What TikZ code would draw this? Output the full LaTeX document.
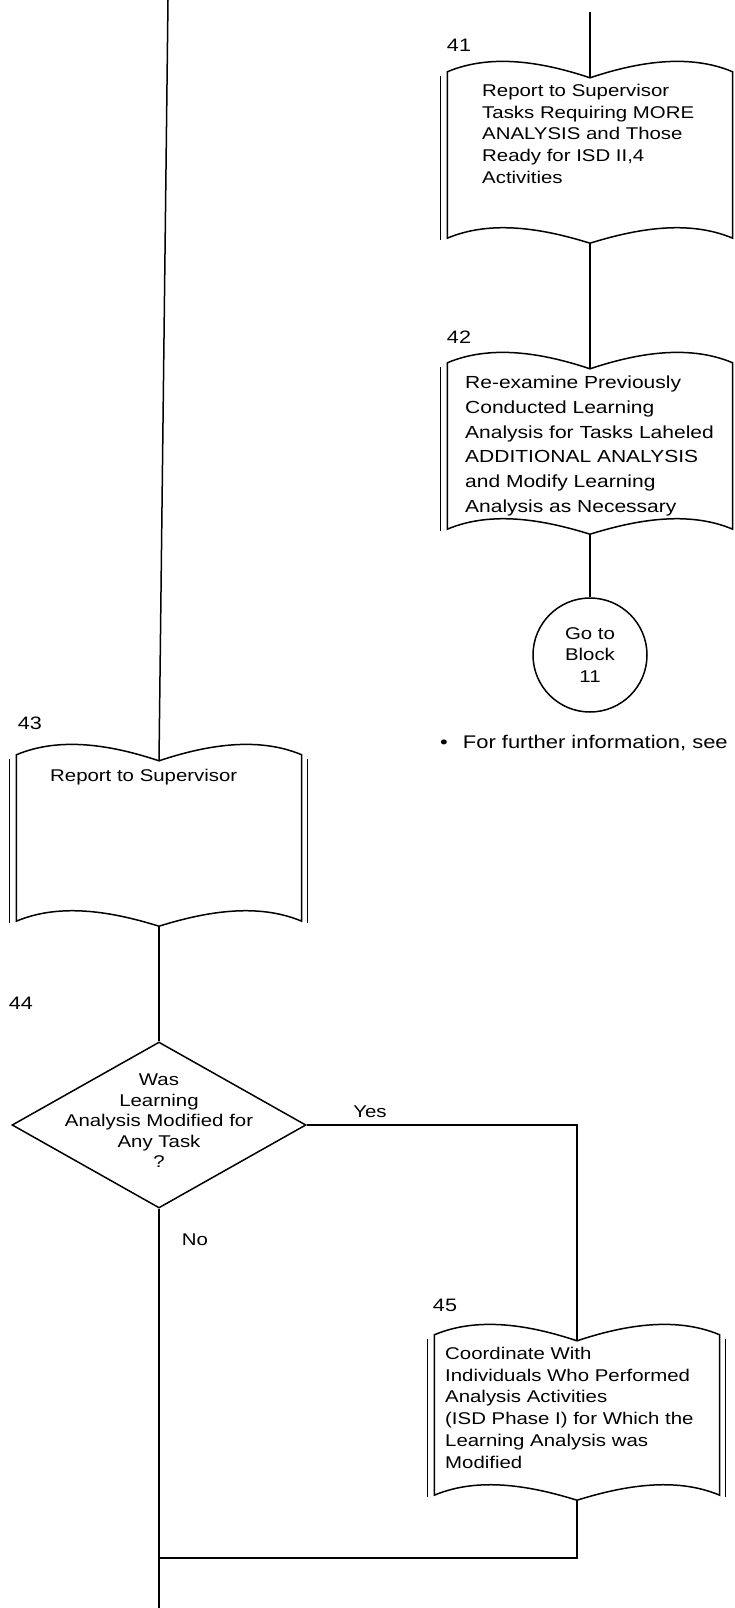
\documentclass[tikz,border=0pt]{standalone}
\usepackage{fontspec}
\setmainfont{Liberation Sans}[FakeStretch=1.2]
\usetikzlibrary{shapes.geometric}
\tikzset{
 ln/.style={line width=1.5pt, black},
 bookbox/.style={draw=none, minimum width=285pt, minimum height=166pt, inner sep=0pt},
 booktext/.style={anchor=north west, inner sep=0pt, align=left, font=\fontsize{17}{21.7}\selectfont},
 num/.style={inner sep=0pt, font=\fontsize{18}{20}\selectfont},
 lab/.style={inner sep=0pt, font=\fontsize{17}{20}\selectfont},
}
\newcommand\drawbook[1]{%
 \coordinate (#1-t) at ([yshift=-6pt]#1.north);
 \coordinate (#1-b) at ([yshift=-5pt]#1.south);
 \draw[ln] (#1.north west) .. controls +(45,-19) and +(-45,-15) .. (#1-t)
   .. controls +(45,-15) and +(-45,-19) .. (#1.north east) -- (#1.south east)
   .. controls +(-45,-19) and +(45,-14) .. (#1-b)
   .. controls +(-45,-14) and +(45,-19) .. (#1.south west) -- cycle;
 \draw[ln] ([xshift=-7pt,yshift=-4pt]#1.north west) -- ([xshift=-7pt,yshift=-2pt]#1.south west);
 \draw[ln] ([xshift=6pt,yshift=-4pt]#1.north east) -- ([xshift=6pt,yshift=-2pt]#1.south east);
}
\begin{document}
\begin{tikzpicture}[x=1pt,y=-1pt]
\useasboundingbox[fill=white] (0,0) rectangle (735,1608);
% block 41
\node[bookbox] (b41) at (590,155) {};
\drawbook{b41}
\node[num] (n41) at (459,45) {41};
\node[booktext] (t41) at (482,84) {Report to Supervisor\\Tasks Requiring MORE\\ANALYSIS and Those\\Ready for ISD II,4\\Activities};
% block 42
\node[bookbox] (b42) at (590,446) {};
\drawbook{b42}
\node[num] (n42) at (459,337) {42};
\node[booktext, font=\fontsize{17.5}{24.7}\selectfont] (t42) at (465,376) {Re-examine Previously\\Conducted Learning\\Analysis for Tasks Laheled\\ADDITIONAL ANALYSIS\\and Modify Learning\\Analysis as Necessary};
% connector circle
\node[draw, ln, circle, minimum size=114pt, inner sep=0pt, align=center, font=\fontsize{17}{21.5}\selectfont] (c11) at (590,655) {Go to\\Block\\11};
% note
\node[lab, anchor=west, font=\fontsize{18.3}{22}\selectfont] (note) at (440,743) {•\hspace{15pt}For further information, see};
% block 43
\node[bookbox] (b43) at (159,838) {};
\drawbook{b43}
\node[num] (n43) at (30,723) {43};
\node[booktext] (t43) at (50,769) {Report to Supervisor};
% decision 44
\node[draw, ln, diamond, minimum width=294pt, minimum height=166pt, inner sep=0pt] (d44) at (159,1125) {};
\node[num] (n44) at (21,1003) {44};
\node[inner sep=0pt, align=center, font=\fontsize{17}{20.5}\selectfont] (t44) at (159,1121) {Was\\Learning\\Analysis Modified for\\Any Task\\?};
\node[lab] (yes) at (370,1112) {Yes};
\node[lab] (no) at (195,1240) {No};
% block 45
\node[bookbox, minimum height=160pt] (b45) at (577,1415) {};
\drawbook{b45}
\node[num] (n45) at (445,1305) {45};
\node[booktext] (t45) at (445,1347) {Coordinate With\\Individuals Who Performed\\Analysis Activities\\(ISD Phase I) for Which the\\Learning Analysis was\\Modified};
% connectors
\coordinate (topL) at (168,0);
\coordinate (top41) at (590,12);
\coordinate (bot) at (159,1608);
\coordinate (join) at (159,1558);
\draw[ln] (topL) -- (b43-t);
\draw[ln] (top41) -- (b41-t);
\draw[ln] (b41-b) -- (b42-t);
\draw[ln] (b42-b) -- (c11.north);
\draw[ln] (b43-b) -- (d44.north);
\draw[ln] (d44.east) -| (b45-t);
\draw[ln] (d44.south) -- (bot);
\draw[ln] (b45-b) |- (join);
\end{tikzpicture}
\end{document}
